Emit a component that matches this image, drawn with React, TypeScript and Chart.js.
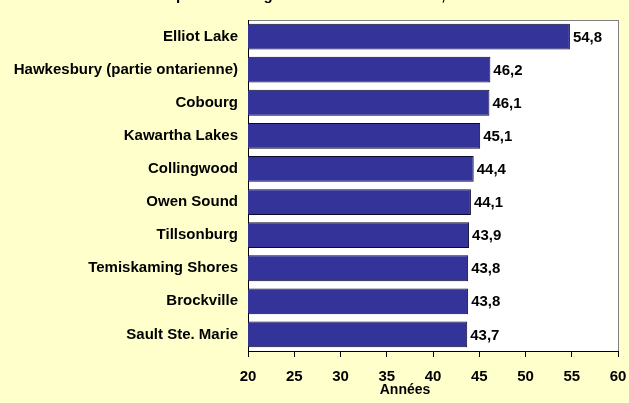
import React, { useEffect, useRef } from "react";
import { Chart, registerables } from "chart.js";

Chart.register(...registerables);

const titleText = "Les 10 plus hauts âges médians de l'Ontario, 2006";
const categories = [
  "Elliot Lake",
  "Hawkesbury (partie ontarienne)",
  "Cobourg",
  "Kawartha Lakes",
  "Collingwood",
  "Owen Sound",
  "Tillsonburg",
  "Temiskaming Shores",
  "Brockville",
  "Sault Ste. Marie",
];
const values = [54.8, 46.2, 46.1, 45.1, 44.4, 44.1, 43.9, 43.8, 43.8, 43.7];
const axisMin = 20;
const axisMax = 60;
const axisStep = 5;
const axisTitle = "Années";

const FAMILY = '"Liberation Sans", Arial, sans-serif';
const FS = 15;

export default function App() {
  const ref = useRef<HTMLCanvasElement | null>(null);

  useEffect(() => {
    if (!ref.current) return;

    const bgPlugin = {
      id: "bgPlugin",
      beforeDraw(chart: any) {
        const { ctx, chartArea: a } = chart;
        ctx.save();
        ctx.fillStyle = "#FFFFCC";
        ctx.fillRect(0, 0, chart.width, chart.height);
        ctx.fillStyle = "#FFFFFF";
        ctx.fillRect(a.left, a.top, a.right - a.left, a.bottom - a.top);
        ctx.strokeStyle = "#808080";
        ctx.lineWidth = 1;
        ctx.strokeRect(a.left + 0.5, a.top + 0.5, a.right - a.left, a.bottom - a.top);
        ctx.restore();
      },
      afterDraw(chart: any) {
        const { ctx, chartArea: a } = chart;
        ctx.save();
        ctx.fillStyle = "#000";
        ctx.font = `bold ${FS}px ${FAMILY}`;
        const pre = ctx.measureText("Les 10 ").width;
        ctx.textAlign = "left";
        ctx.textBaseline = "alphabetic";
        ctx.fillText(titleText, 176 - pre, 0);
        ctx.font = `bold 14px ${FAMILY}`;
        ctx.textAlign = "center";
        ctx.textBaseline = "middle";
        ctx.fillText(axisTitle, 405, a.bottom + 39);
        ctx.restore();
      },
      afterDatasetsDraw(chart: any) {
        const { ctx } = chart;
        const meta = chart.getDatasetMeta(0);
        ctx.save();
        ctx.fillStyle = "#000";
        ctx.font = `bold ${FS}px ${FAMILY}`;
        ctx.textAlign = "left";
        ctx.textBaseline = "middle";
        meta.data.forEach((bar: any, i: number) => {
          const txt = values[i].toFixed(1).replace(".", ",");
          ctx.fillText(txt, bar.x + 3, bar.y + 1);
        });
        ctx.restore();
      },
    };

    const chart = new Chart(ref.current, {
      type: "bar",
      data: {
        labels: categories,
        datasets: [
          {
            data: values,
            backgroundColor: "#333399",
            borderColor: "#0a0a2a",
            borderWidth: 1,
            borderSkipped: false,
            barPercentage: 0.78,
            categoryPercentage: 1,
          },
        ],
      },
      options: {
        indexAxis: "y",
        responsive: false,
        animation: false,
        devicePixelRatio: 1,
        layout: { padding: { top: 20, right: 11, left: 0, bottom: 0 } },
        plugins: {
          legend: { display: false },
          tooltip: { enabled: false },
          title: { display: false },
        },
        scales: {
          x: {
            min: axisMin,
            max: axisMax,
            ticks: {
              stepSize: axisStep,
              color: "#000",
              padding: 11,
              font: { family: FAMILY, size: FS, weight: "bold" },
            },
            grid: {
              display: true,
              drawOnChartArea: false,
              drawTicks: true,
              tickLength: 6,
              tickColor: "#000",
            },
            border: { display: true, color: "#000", width: 1 },
            afterFit(scale: any) {
              scale.height = 52;
              scale.paddingRight = 0;
              scale.paddingLeft = 0;
            },
          },
          y: {
            ticks: {
              color: "#000",
              padding: 10,
              font: { family: FAMILY, size: FS, weight: "bold" },
            },
            grid: { display: true, drawOnChartArea: false, drawTicks: false },
            border: { display: true, color: "#000", width: 1 },
            afterFit(scale: any) {
              scale.width = 248;
              scale.paddingTop = 0;
              scale.paddingBottom = 0;
            },
          },
        },
      },
      plugins: [bgPlugin],
    } as any);

    return () => chart.destroy();
  }, []);

  return (
    <div
      style={{
        position: "fixed",
        left: 0,
        top: 0,
        width: 629,
        height: 403,
        background: "#FFFFCC",
      }}
    >
      <canvas ref={ref} width={629} height={403} style={{ display: "block" }} />
    </div>
  );
}
